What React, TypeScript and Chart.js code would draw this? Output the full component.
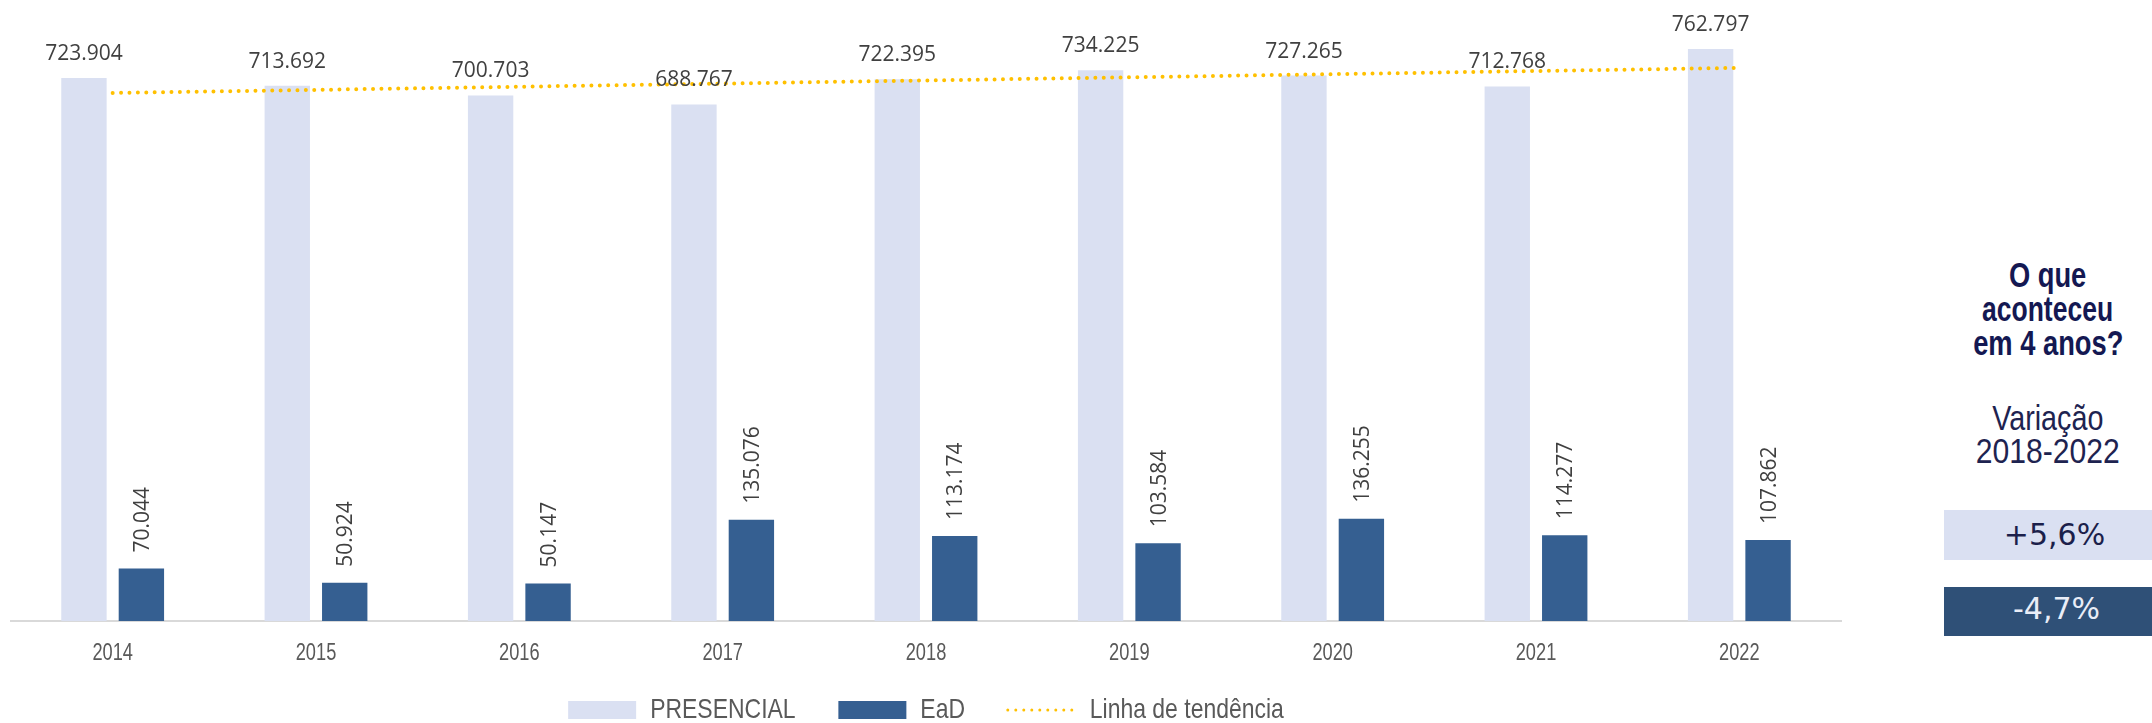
import React, { useEffect, useRef } from 'react';
import { Chart, registerables } from 'chart.js';

Chart.register(...registerables);

const years = ['2014', '2015', '2016', '2017', '2018', '2019', '2020', '2021', '2022'];
const presencial = [723904, 713692, 700703, 688767, 722395, 734225, 727265, 712768, 762797];
const ead = [70044, 50924, 50147, 135076, 113174, 103584, 136255, 114277, 107862];
// trend line at its two ends (straight line between them)
const trend: (number | null)[] = [704000, null, null, null, null, null, null, null, 737500];
const seriesNames = ['PRESENCIAL', 'EaD', 'Linha de tendência'];
const panelTitle = ['O que', 'aconteceu', 'em 4 anos?'];
const panelSub = ['Variação', '2018-2022'];
const variations = ['+5,6%', '-4,7%'];

const C_PRES = '#DAE0F2';
const C_EAD = '#355F91';
const C_TREND = '#FFC000';
const SANS = '"Liberation Sans", Arial, sans-serif';

// Fonts tagged with "sxNN" are drawn horizontally condensed to NN% (Arial Narrow look).
const narrowText = {
  id: 'narrowText',
  beforeInit(chart: any) {
    const ctx = chart.ctx as any;
    const origFill = ctx.fillText.bind(ctx);
    const origMeasure = ctx.measureText.bind(ctx);
    const factor = () => {
      const m = /sx(\d+)/.exec(String(ctx.font));
      return m ? Number(m[1]) / 100 : 1;
    };
    ctx.fillText = (text: string, x: number, y: number, maxW?: number) => {
      const f = factor();
      if (f !== 1) {
        ctx.save();
        ctx.translate(x, y);
        ctx.scale(f, 1);
        if (maxW === undefined) origFill(text, 0, 0);
        else origFill(text, 0, 0, maxW / f);
        ctx.restore();
      } else if (maxW === undefined) origFill(text, x, y);
      else origFill(text, x, y, maxW);
    };
    ctx.measureText = (text: string) => {
      const m = origMeasure(text);
      const f = factor();
      if (f === 1) return m;
      return {
        width: m.width * f,
        actualBoundingBoxLeft: m.actualBoundingBoxLeft * f,
        actualBoundingBoxRight: m.actualBoundingBoxRight * f,
        actualBoundingBoxAscent: m.actualBoundingBoxAscent,
        actualBoundingBoxDescent: m.actualBoundingBoxDescent,
        fontBoundingBoxAscent: m.fontBoundingBoxAscent,
        fontBoundingBoxDescent: m.fontBoundingBoxDescent,
      };
    };
  },
};

const fmt = (v: number) => String(v).replace(/\B(?=(\d{3})+(?!\d))/g, '.');

const valueLabels = {
  id: 'valueLabels',
  afterDatasetsDraw(chart: any) {
    const ctx = chart.ctx;
    ctx.save();
    ctx.font = '21px "Open Sans", sans-serif';
    ctx.fillStyle = '#404040';
    [0, 1].forEach((di) => {
      const meta = chart.getDatasetMeta(di);
      const data = chart.data.datasets[di].data as number[];
      meta.data.forEach((el: any, i: number) => {
        const { x, y } = el.getProps(['x', 'y'], true);
        const text = fmt(data[i]);
        if (di === 0) {
          ctx.textAlign = 'center';
          ctx.textBaseline = 'alphabetic';
          ctx.fillText(text, x, y - 18);
        } else {
          ctx.save();
          ctx.translate(x, y - 16);
          ctx.rotate(-Math.PI / 2);
          ctx.textAlign = 'left';
          ctx.textBaseline = 'alphabetic';
          ctx.fillText(text, 0, 7.5);
          ctx.restore();
        }
      });
    });
    ctx.restore();
  },
};

function ChartBox() {
  const ref = useRef<HTMLCanvasElement | null>(null);
  useEffect(() => {
    if (!ref.current) return;
    const chart = new Chart(ref.current, {
      type: 'bar',
      data: {
        labels: years,
        datasets: [
          {
            label: seriesNames[0],
            data: presencial,
            backgroundColor: C_PRES,
            categoryPercentage: 0.565,
            barPercentage: 0.79,
            order: 1,
          },
          {
            label: seriesNames[1],
            data: ead,
            backgroundColor: C_EAD,
            categoryPercentage: 0.565,
            barPercentage: 0.79,
            order: 1,
          },
          {
            type: 'line',
            label: seriesNames[2],
            data: trend,
            borderColor: C_TREND,
            borderWidth: 4,
            borderDash: [0, 8.4],
            borderCapStyle: 'round',
            pointRadius: 0,
            spanGaps: true,
            fill: false,
            order: 0,
          } as any,
        ],
      },
      options: {
        animation: false,
        responsive: true,
        maintainAspectRatio: false,
        layout: { padding: { left: 11, right: 19, top: 6, bottom: 0 } },
        scales: {
          x: {
            grid: { display: false, drawTicks: false },
            border: { color: '#D9D9D9', width: 2 },
            ticks: { color: '#595959', font: { family: SANS + ', sx76', size: 24 }, padding: 18 },
            afterFit: (s: any) => {
              s.height = 45;
            },
          },
          y: { display: false, min: 0, max: 820000 },
        },
        plugins: {
          tooltip: { enabled: false },
          legend: {
            position: 'bottom',
            labels: {
              usePointStyle: true,
              pointStyleWidth: 68,
              boxHeight: 18,
              padding: 30,
              color: '#595959',
              font: { family: SANS + ', sx82', size: 28 },
              generateLabels: (ch: any) =>
                ch.data.datasets.map((ds: any, i: number) => ({
                  text: i < 2 ? ds.label + '\u00a0\u00a0' : ds.label,
                  datasetIndex: i,
                  hidden: false,
                  fillStyle: i < 2 ? ds.backgroundColor : 'rgba(0,0,0,0)',
                  strokeStyle: i < 2 ? ds.backgroundColor : C_TREND,
                  lineWidth: i < 2 ? 0 : 3,
                  lineDash: i < 2 ? [] : [0, 8],
                  lineCap: 'round',
                  pointStyle: i < 2 ? 'rect' : 'line',
                  fontColor: '#595959',
                })),
            },
          },
        },
      } as any,
      plugins: [narrowText, valueLabels],
    });
    return () => chart.destroy();
  }, []);
  return (
    <div style={{ position: 'absolute', left: 0, top: 0, width: 1860, height: 734 }}>
      <canvas ref={ref} />
    </div>
  );
}

function ScaledLine({ text, sx }: { text: string; sx: number }) {
  return (
    <div style={{ whiteSpace: 'nowrap' }}>
      <span style={{ display: 'inline-block', transform: `scaleX(${sx})`, transformOrigin: 'center' }}>{text}</span>
    </div>
  );
}

const titleScales = [0.78, 0.757, 0.78];
const subScales = [0.82, 0.86];

export default function App() {
  return (
    <div
      style={{
        position: 'fixed',
        left: 0,
        top: 0,
        width: 2152,
        height: 723,
        overflow: 'hidden',
        background: '#ffffff',
      }}
    >
      <ChartBox />
      <div
        style={{
          position: 'absolute',
          left: 1944,
          top: 258,
          width: 208,
          textAlign: 'center',
          fontFamily: SANS,
          fontWeight: 'bold',
          fontSize: 35,
          lineHeight: '34px',
          color: '#141852',
        }}
      >
        {panelTitle.map((t, i) => (
          <ScaledLine key={t} text={t} sx={titleScales[i]} />
        ))}
      </div>
      <div
        style={{
          position: 'absolute',
          left: 1944,
          top: 401,
          width: 208,
          textAlign: 'center',
          fontFamily: SANS,
          fontSize: 35,
          lineHeight: '33px',
          color: '#1E2350',
        }}
      >
        {panelSub.map((t, i) => (
          <ScaledLine key={t} text={t} sx={subScales[i]} />
        ))}
      </div>
      <div
        style={{
          position: 'absolute',
          left: 1944,
          top: 510,
          width: 208,
          height: 50,
          boxSizing: 'border-box',
          paddingLeft: 13,
          background: C_PRES,
          color: '#1B1F4B',
          fontFamily: '"DejaVu Sans", sans-serif',
          fontSize: 30,
          lineHeight: '50px',
          textAlign: 'center',
        }}
      >
        {variations[0]}
      </div>
      <div
        style={{
          position: 'absolute',
          left: 1944,
          top: 587,
          width: 208,
          height: 49,
          boxSizing: 'border-box',
          paddingLeft: 17,
          background: '#2F5077',
          color: '#E9EDF7',
          fontFamily: '"DejaVu Sans", sans-serif',
          fontSize: 30,
          lineHeight: '44px',
          textAlign: 'center',
        }}
      >
        {variations[1]}
      </div>
    </div>
  );
}
